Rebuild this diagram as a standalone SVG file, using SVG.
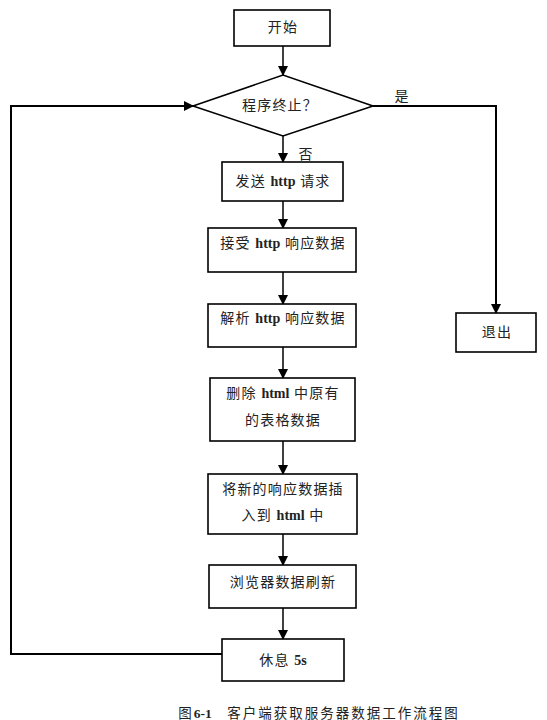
<svg xmlns="http://www.w3.org/2000/svg" width="547" height="720" viewBox="0 0 547 720">
<defs>
<marker id="ah" markerWidth="10" markerHeight="10" refX="9" refY="5" orient="auto" markerUnits="userSpaceOnUse">
<path d="M0,0 L10,5 L0,10 Z" fill="#000"/>
</marker>
<style>
.box{fill:#fff;stroke:#000;stroke-width:1.6}
.t{font-family:"Liberation Serif","Noto Sans CJK SC",serif;font-size:14px;fill:#222;text-anchor:middle;dominant-baseline:central;letter-spacing:1.2px}
.b{font-weight:bold;letter-spacing:0}
.ln{fill:none;stroke:#000;stroke-width:1.5}
.lp{fill:none;stroke:#000;stroke-width:2}
</style>
</defs>
<rect width="547" height="720" fill="#fff"/>
<g id="connectors">
<line class="ln" x1="283" y1="46" x2="283" y2="75" marker-end="url(#ah)"/>
<line class="ln" x1="283" y1="136" x2="283" y2="162" marker-end="url(#ah)"/>
<line class="ln" x1="283" y1="201" x2="283" y2="228" marker-end="url(#ah)"/>
<line class="ln" x1="283" y1="272" x2="283" y2="304" marker-end="url(#ah)"/>
<line class="ln" x1="283" y1="347" x2="283" y2="378" marker-end="url(#ah)"/>
<line class="ln" x1="283" y1="441" x2="283" y2="474" marker-end="url(#ah)"/>
<line class="ln" x1="283" y1="534" x2="283" y2="565" marker-end="url(#ah)"/>
<line class="ln" x1="283" y1="608" x2="283" y2="639" marker-end="url(#ah)"/>
<polyline class="lp" points="373,106 496,106 496,313" marker-end="url(#ah)"/>
<polyline class="lp" points="222,654 11,654 11,106 193,106" marker-end="url(#ah)"/>
<text class="t" x="402" y="96">是</text>
<text class="t" x="306" y="154">否</text>
</g>
<g id="start"><rect class="box" x="234" y="10" width="96" height="36"/><text class="t" x="283" y="27">开始</text></g>
<g id="decision"><polygon class="box" points="193,106 283,75 373,106 283,136"/><text class="t" x="280" y="105">程序终止？</text></g>
<g id="send"><rect class="box" x="222" y="162" width="121" height="39"/><text class="t" x="283" y="181">发送 <tspan class="b">http</tspan> 请求</text></g>
<g id="receive"><rect class="box" x="208" y="228" width="148" height="44"/><text class="t" x="283" y="243">接受 <tspan class="b">http</tspan> 响应数据</text></g>
<g id="parse"><rect class="box" x="208" y="304" width="148" height="43"/><text class="t" x="283" y="318">解析 <tspan class="b">http</tspan> 响应数据</text></g>
<g id="delete"><rect class="box" x="210" y="378" width="145" height="63"/><text class="t" x="283" y="393">删除 <tspan class="b">html</tspan> 中原有</text><text class="t" x="283" y="420">的表格数据</text></g>
<g id="insert"><rect class="box" x="208" y="474" width="149" height="60"/><text class="t" x="283" y="489">将新的响应数据插</text><text class="t" x="283" y="515">入到 <tspan class="b">html</tspan> 中</text></g>
<g id="refresh"><rect class="box" x="209" y="565" width="147" height="43"/><text class="t" x="283" y="582">浏览器数据刷新</text></g>
<g id="sleep"><rect class="box" x="222" y="639" width="122" height="42"/><text class="t" x="283" y="660">休息 <tspan class="b">5s</tspan></text></g>
<g id="exit"><rect class="box" x="456" y="313" width="80" height="39"/><text class="t" x="497" y="332">退出</text></g>
<text class="t" x="319" y="713" style="font-size:13.5px;letter-spacing:2px">图<tspan class="b">6-1</tspan>　客户端获取服务器数据工作流程图</text>
</svg>
